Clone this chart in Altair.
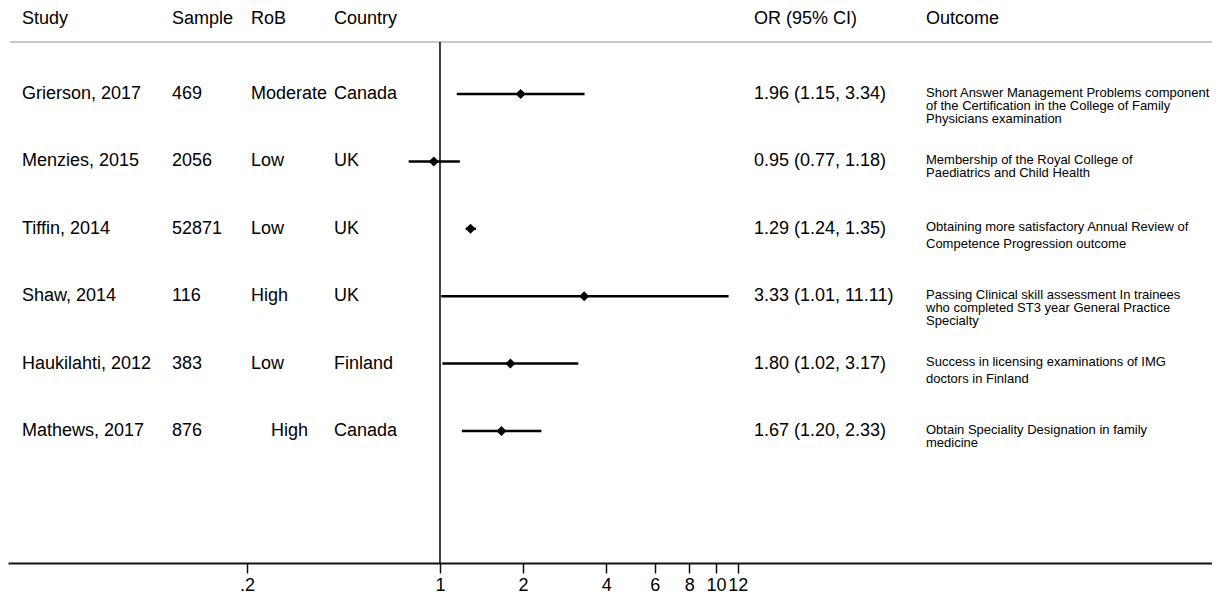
import altair as alt
import pandas as pd

studies = ["Grierson, 2017", "Menzies, 2015", "Tiffin, 2014", "Shaw, 2014",
           "Haukilahti, 2012", "Mathews, 2017"]
samples = ["469", "2056", "52871", "116", "383", "876"]
rob = ["Moderate", "Low", "Low", "High", "Low", "High"]
countries = ["Canada", "UK", "UK", "UK", "Finland", "Canada"]
odds = [1.96, 0.95, 1.29, 3.33, 1.80, 1.67]
ci_low = [1.15, 0.77, 1.24, 1.01, 1.02, 1.20]
ci_high = [3.34, 1.18, 1.35, 11.11, 3.17, 2.33]
outcomes = [
    "Short Answer Management Problems component\nof the Certification in the College of Family\nPhysicians examination",
    "Membership of the Royal College of\nPaediatrics and Child Health",
    "Obtaining more satisfactory Annual Review of\nCompetence Progression outcome",
    "Passing Clinical skill assessment In trainees\nwho completed ST3 year General Practice\nSpecialty",
    "Success in licensing examinations of IMG\ndoctors in Finland",
    "Obtain Speciality Designation in family\nmedicine",
]
wide_spaced = ["Tiffin, 2014", "Haukilahti, 2012"]
indented_rob = ["Mathews, 2017"]
headers = ["Study", "Sample", "RoB", "Country", "OR (95% CI)", "Outcome"]
tick_values = [0.2, 1, 2, 4, 6, 8, 10, 12]

df = pd.DataFrame({
    "study": studies,
    "sample": samples,
    "rob": rob,
    "country": countries,
    "or": odds,
    "lo": ci_low,
    "hi": ci_high,
    "outcome": outcomes,
})
df["row"] = list(range(1, len(df) + 1))
df["ortext"] = [f"{o:.2f} ({l:.2f}, {h:.2f})" for o, l, h in zip(odds, ci_low, ci_high)]
df["wide"] = df["study"].isin(wide_spaced)
df["indent"] = df["study"].isin(indented_rob)

FONT = "Arial, Liberation Sans"
W, H = 1204, 555

x_scale = alt.Scale(type="log", domain=[0.02722, 626.7], nice=False)
x_axis = alt.Axis(
    values=tick_values, title=None, grid=False,
    labelExpr="datum.value < 0.5 ? '.2' : format(datum.value, '~g')",
    labelFontSize=18, labelFont=FONT, labelColor="black",
    labelPadding=3, labelOverlap=False, labelFlush=False, labelBound=False,
    domainColor="#111", domainWidth=2, tickColor="#111", tickWidth=1.5, tickSize=10,
)
y_enc = alt.Y("row:Q", scale=alt.Scale(domain=[-0.276, 7.958], reverse=True, nice=False, zero=False), axis=None)

base = alt.Chart(df)

ci = base.mark_rule(color="black", strokeWidth=2.5).encode(
    x=alt.X("lo:Q", scale=x_scale, axis=x_axis), x2="hi:Q", y=y_enc)
pts = base.mark_point(shape="diamond", filled=True, size=100, color="black", opacity=1).encode(
    x=alt.X("or:Q", scale=x_scale, axis=x_axis), y=y_enc)

null_line = base.transform_filter("datum.row == 1").mark_rule(color="black", strokeWidth=1.5).encode(
    x=alt.X("one:Q", scale=x_scale, axis=x_axis), y=alt.value(34), y2=alt.value(H)
).transform_calculate(one="1")

header_line = base.transform_filter("datum.row == 1").mark_rule(color="#c8c8c8", strokeWidth=2).encode(
    x=alt.value(2), x2=alt.value(W), y=alt.value(34))

layers = [header_line, null_line, ci, pts]


def header(text, px):
    return alt.Chart(pd.DataFrame({"h": [text]})).mark_text(
        align="left", baseline="middle", fontSize=18, font=FONT, color="black").encode(
        x=alt.value(px), y=alt.value(11), text="h:N")


def body(field, px, src=base, dx=0):
    return src.mark_text(align="left", baseline="middle", fontSize=18, font=FONT,
                         color="black", dx=dx).encode(
        x=alt.value(px), y=y_enc, text=alt.Text(f"{field}:N"))


layers += [body("study", 14), header(headers[0], 14)]
layers += [body("sample", 164), header(headers[1], 164)]
layers += [body("rob", 243, base.transform_filter("!datum.indent")),
           body("rob", 243, base.transform_filter("datum.indent"), dx=20),
           header(headers[2], 243)]
layers += [body("country", 326), header(headers[3], 326)]
layers += [body("ortext", 746), header(headers[4], 746)]
layers.append(header(headers[5], 918))

out_tight = base.transform_filter("!datum.wide").mark_text(
    align="left", baseline="top", fontSize=13, font=FONT, color="black",
    lineBreak="\n", lineHeight=13, dy=-7).encode(
    x=alt.value(918), y=y_enc, text="outcome:N")
out_wide = base.transform_filter("datum.wide").mark_text(
    align="left", baseline="top", fontSize=13, font=FONT, color="black",
    lineBreak="\n", lineHeight=17, dy=-8).encode(
    x=alt.value(918), y=y_enc, text="outcome:N")
layers += [out_tight, out_wide]

chart = alt.layer(*layers).properties(
    width=W, height=H,
    autosize=alt.AutoSizeParams(type="none"),
    padding={"left": 0, "right": 0, "top": 0, "bottom": 31},
    background="white",
).configure_view(stroke=None)

chart.save("out.html", embed_options={"renderer": "svg", "actions": False})
